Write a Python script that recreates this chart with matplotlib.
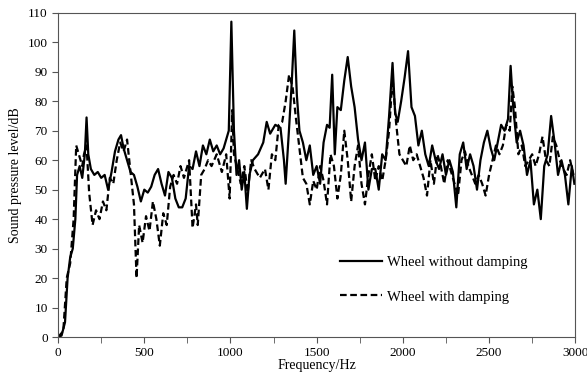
import numpy as np
import matplotlib.pyplot as plt

plt.rcParams['font.family'] = ['Liberation Serif', 'DejaVu Serif']

# Sound pressure level, wheel without damping
f_plain = [0, 20, 40, 55, 70, 85, 100, 110, 125, 140, 155, 165, 175, 190, 210, 230, 250, 270, 290, 310,
           330, 350, 365, 380, 400, 420, 440, 460, 480, 500, 520, 540, 560, 580, 600, 620, 640, 660, 680, 700,
           720, 740, 760, 780, 800, 820, 840, 860, 880, 900, 920, 940, 960, 975, 990, 1005, 1020, 1035, 1050, 1065,
           1080, 1095, 1110, 1130, 1160, 1190, 1210, 1230, 1260, 1290, 1310, 1320, 1340, 1355, 1370, 1385, 1400, 1420, 1440, 1460,
           1480, 1500, 1520, 1540, 1560, 1575, 1590, 1605, 1620, 1640, 1660, 1680, 1700, 1720, 1740, 1760, 1780, 1800, 1820, 1840,
           1860, 1880, 1900, 1920, 1940, 1955, 1970, 1990, 2010, 2030, 2050, 2070, 2090, 2110, 2130, 2150, 2170, 2190, 2210, 2230,
           2250, 2270, 2290, 2310, 2330, 2350, 2370, 2390, 2410, 2430, 2450, 2470, 2490, 2510, 2530, 2550, 2570, 2590, 2610, 2625,
           2640, 2660, 2680, 2700, 2720, 2740, 2760, 2780, 2800, 2820, 2840, 2860, 2880, 2900, 2920, 2940, 2960, 2980, 2995]
spl_plain = [0, 0.5, 5, 20, 27, 30, 40, 55, 58, 54, 62, 74.5, 62, 57, 55, 56, 54, 55, 50, 56,
             63, 67, 68.5, 64, 60, 56, 55, 51, 46, 50, 49, 51, 55, 57, 52, 48, 56, 54, 47, 44,
             44, 47, 58, 57, 63, 58, 65, 62, 67, 63, 65, 62, 64, 67, 70, 107, 70, 55, 60, 50,
             56, 43.5, 55, 60, 62, 66, 73, 69, 72, 71, 60, 52, 71, 86, 104, 82, 70, 66, 60, 65,
             55, 58, 52, 66, 72, 71, 89, 62, 78, 77, 87, 95, 85, 78, 67, 60, 66, 50, 57, 57,
             50, 62, 60, 75, 93, 76, 73, 80, 88, 97, 78, 75, 65, 70, 62, 58, 65, 60, 57, 62,
             55, 60, 56, 44, 62, 66, 57, 62, 58, 50, 60, 66, 70, 64, 60, 66, 72, 70, 74, 92,
             78, 66, 70, 65, 55, 60, 45, 50, 40, 58, 62, 75, 66, 55, 60, 55, 45, 58, 52]

# Sound pressure level, wheel with damping
f_damp = [0, 30, 50, 70, 90, 105, 120, 140, 150, 165, 180, 200, 220, 240, 260, 280, 300, 320, 340, 360,
          380, 400, 420, 440, 455, 470, 490, 510, 530, 550, 570, 590, 610, 630, 650, 670, 690, 710, 730, 760,
          780, 800, 810, 830, 850, 870, 890, 920, 950, 975, 995, 1010, 1020, 1040, 1060, 1080, 1100, 1120, 1140, 1170,
          1200, 1220, 1240, 1260, 1280, 1300, 1320, 1340, 1360, 1380, 1400, 1420, 1440, 1460, 1480, 1500, 1520, 1540, 1560, 1580,
          1600, 1620, 1640, 1660, 1680, 1700, 1720, 1740, 1760, 1780, 1800, 1820, 1840, 1860, 1880, 1900, 1920, 1940, 1960, 1980,
          2000, 2020, 2040, 2060, 2080, 2100, 2120, 2140, 2160, 2180, 2200, 2220, 2240, 2260, 2280, 2300, 2320, 2340, 2360, 2380,
          2400, 2420, 2440, 2460, 2480, 2500, 2520, 2540, 2560, 2580, 2600, 2620, 2635, 2650, 2670, 2690, 2710, 2730, 2750, 2770,
          2790, 2810, 2830, 2850, 2870, 2890, 2910, 2930, 2950, 2970, 2990]
spl_damp = [0, 2, 20, 25, 40, 65, 62, 58, 62, 65, 49, 38, 43, 40, 46, 43, 54, 52, 60, 66,
            63, 67, 56, 45, 20, 38, 32, 41, 36, 46, 40, 31, 42, 38, 51, 55, 52, 58, 54, 60,
            37, 45, 38, 55, 57, 60, 58, 62, 56, 62, 47, 77, 62, 57, 52, 58, 49, 60, 57, 54,
            57, 50, 62, 60, 72, 73, 80, 89, 85, 74, 64, 54, 52, 45, 53, 50, 58, 53, 45, 62,
            58, 47, 55, 70, 60, 46, 58, 65, 52, 45, 55, 62, 53, 58, 53, 60, 70, 88, 73, 62,
            60, 58, 65, 60, 62, 58, 54, 48, 60, 52, 62, 58, 52, 60, 56, 52, 48, 60, 63, 58,
            55, 52, 55, 52, 48, 55, 60, 65, 62, 65, 72, 70, 85, 78, 62, 65, 58, 60, 62, 58,
            62, 68, 60, 58, 68, 65, 60, 57, 55, 60, 55]

fig = plt.figure(figsize=(5.87, 3.77), dpi=100)
ax = fig.add_axes([0.099, 0.106, 0.881, 0.86])

ax.plot(f_plain, spl_plain, color='black', linewidth=1.6, label='Wheel without damping')
ax.plot(f_damp, spl_damp, color='black', linewidth=1.6, linestyle=(0, (3, 1.6)), label='Wheel with damping')

ax.set_xlim(0, 3000)
ax.set_ylim(0, 110)
ax.set_xticks(np.arange(0, 3001, 500))
ax.set_xticks(np.arange(0, 3001, 250), minor=True)
ax.set_yticks(np.arange(0, 111, 10))
ax.tick_params(axis='both', labelsize=9.5, direction='out', length=4, color='#555555')
ax.tick_params(axis='x', which='minor', direction='out', length=4, color='#555555')
for s in ax.spines.values():
    s.set_color('#555555')

ax.set_xlabel('Frequency/Hz', fontsize=10, labelpad=0)
ax.set_ylabel('Sound pressure level/dB', fontsize=10, labelpad=4)

ax.legend(loc='upper left', bbox_to_anchor=(0.545, 0.25), frameon=False, fontsize=10.5,
          borderpad=0, borderaxespad=0, handlelength=2.9, handletextpad=0.35, labelspacing=1.45)

fig.savefig('out.png', dpi=100)
